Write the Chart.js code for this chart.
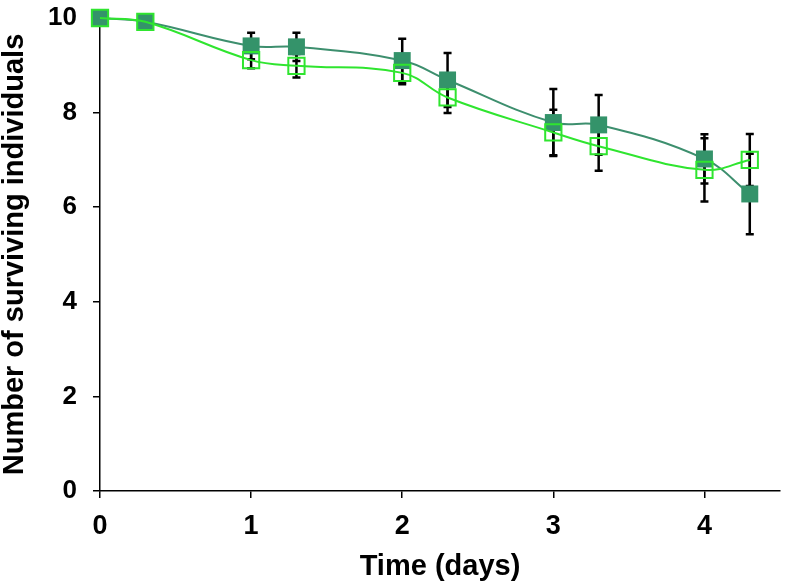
<!DOCTYPE html>
<html lang="en">
<head>
    <meta charset="UTF-8">
    <title>Surviving individuals</title>
    <script src="https://cdn.jsdelivr.net/npm/chart.js"></script>
    <style>
        html, body { margin: 0; padding: 0; background: #fff; }
        #wrap { width: 786px; height: 586px; }
    </style>
</head>
<body>
    <div id="wrap"><canvas id="survivalChart"></canvas></div>

    <script>
        // time points (days)
        const days = [0, 0.3, 1, 1.3, 2, 2.3, 3, 3.3, 4, 4.3];

        // filled squares
        const filledMean = [10, 9.92, 9.41, 9.39, 9.10, 8.69, 7.79, 7.74, 7.02, 6.28];
        const filledErr  = [0, 0, 0.28, 0.30, 0.46, 0.57, 0.71, 0.63, 0.52, 0.85];

        // open squares
        const openMean = [10, 9.92, 9.11, 8.99, 8.84, 8.32, 7.58, 7.29, 6.79, 7.00];
        const openErr  = [0, 0, 0.17, 0.25, 0.24, 0.33, 0.48, 0.52, 0.67, 0.55];

        const xTicks = [0, 1, 2, 3, 4];
        const yTicks = [0, 2, 4, 6, 8, 10];

        const toPoints = (ys) => days.map((d, i) => ({ x: d, y: ys[i] }));

        // error bars go under the markers
        const errorBars = {
            id: 'errorBars',
            beforeDatasetsDraw(chart) {
                const { ctx, scales: { x, y } } = chart;
                ctx.save();
                ctx.strokeStyle = '#000';
                ctx.lineWidth = 2.5;
                [[filledMean, filledErr], [openMean, openErr]].forEach(([m, e]) => {
                    days.forEach((d, i) => {
                        if (!e[i]) return;
                        const px = x.getPixelForValue(d);
                        const top = y.getPixelForValue(m[i] + e[i]);
                        const bot = y.getPixelForValue(m[i] - e[i]);
                        ctx.beginPath();
                        ctx.moveTo(px, top); ctx.lineTo(px, bot);
                        ctx.moveTo(px - 4, top); ctx.lineTo(px + 4, top);
                        ctx.moveTo(px - 4, bot); ctx.lineTo(px + 4, bot);
                        ctx.stroke();
                    });
                });
                ctx.restore();
            }
        };

        const ctx = document.getElementById('survivalChart').getContext('2d');
        new Chart(ctx, {
            type: 'line',
            data: {
                datasets: [
                    {
                        label: 'open',
                        data: toPoints(openMean),
                        borderColor: '#2fe52f',
                        borderWidth: 2,
                        tension: 0.4,
                        pointStyle: 'rect',
                        pointRadius: 11.5,
                        pointBorderWidth: 2,
                        pointBorderColor: '#2fe52f',
                        pointBackgroundColor: 'rgba(0,0,0,0)',
                        clip: false
                    },
                    {
                        label: 'filled',
                        data: toPoints(filledMean),
                        borderColor: '#3d8f6e',
                        borderWidth: 2,
                        tension: 0.4,
                        pointStyle: 'rect',
                        pointRadius: 12,
                        pointBorderWidth: 0,
                        pointBackgroundColor: '#34936a',
                        clip: false
                    }
                ]
            },
            options: {
                responsive: true,
                maintainAspectRatio: false,
                animation: false,
                layout: { autoPadding: false, padding: { top: 18, right: 6, bottom: 0, left: 0 } },
                plugins: { legend: { display: false }, tooltip: { enabled: false } },
                scales: {
                    x: {
                        type: 'linear',
                        min: 0,
                        max: 4.5,
                        afterFit(scale) {
                            scale.height = 95;
                            scale.paddingLeft = 0;
                            scale.paddingRight = 0;
                        },
                        afterBuildTicks(scale) { scale.ticks = xTicks.map(v => ({ value: v })); },
                        border: { color: '#000', width: 1.5 },
                        grid: { drawOnChartArea: false, color: '#000', lineWidth: 1.5, tickLength: 7 },
                        ticks: {
                            color: '#000',
                            padding: 12,
                            font: { family: 'Liberation Sans, Arial, sans-serif', size: 27, weight: 'bold' }
                        },
                        title: {
                            display: true,
                            text: 'Time (days)',
                            color: '#000',
                            padding: { top: 0, bottom: 2 },
                            font: { family: 'Liberation Sans, Arial, sans-serif', size: 29, weight: 'bold' }
                        }
                    },
                    y: {
                        min: 0,
                        max: 10,
                        afterFit(scale) {
                            scale.width = 100;
                            scale.paddingTop = 0;
                            scale.paddingBottom = 0;
                        },
                        afterBuildTicks(scale) { scale.ticks = yTicks.map(v => ({ value: v })); },
                        border: { color: '#000', width: 1.5 },
                        grid: { drawOnChartArea: false, color: '#000', lineWidth: 1.5, tickLength: 7 },
                        ticks: {
                            color: '#000',
                            padding: 16,
                            font: { family: 'Liberation Sans, Arial, sans-serif', size: 26, weight: 'bold' }
                        },
                        title: {
                            display: true,
                            text: 'Number of surviving individuals',
                            color: '#000',
                            padding: 0,
                            font: { family: 'Liberation Sans, Arial, sans-serif', size: 29, weight: 'bold', lineHeight: 1 }
                        }
                    }
                }
            },
            plugins: [errorBars]
        });
    </script>
</body>
</html>
